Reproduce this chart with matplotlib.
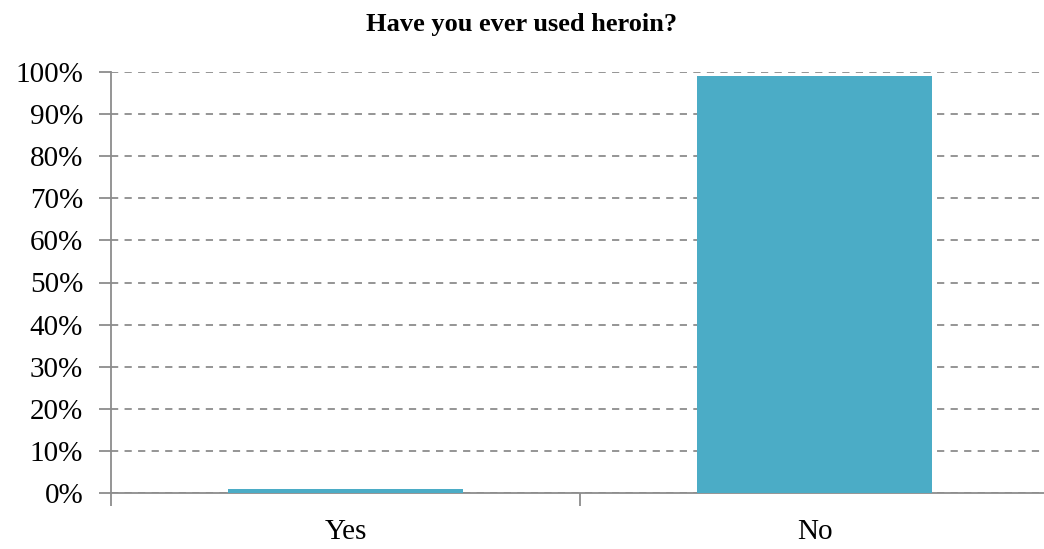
import matplotlib
matplotlib.use("Agg")
import matplotlib.pyplot as plt
from matplotlib.ticker import PercentFormatter, MultipleLocator

categories = ["Yes", "No"]
shares = [1, 99]
title = "Have you ever used heroin?"

plt.rcParams["font.family"] = ["Liberation Serif", "DejaVu Serif"]

fig = plt.figure(figsize=(10.44, 5.49), dpi=100)
W, H = 1044, 549
left, right, top, bottom = 111, 1049, 72, 493
ax = fig.add_axes([left / W, 1 - bottom / H, (right - left) / W, (bottom - top) / H])

grid_color = "#8c8c8c"
x = range(len(categories))
ax.bar(x, shares, width=0.5, color="#4bacc6", zorder=3)

ax.set_xlim(-0.5, len(categories) - 0.5)
ax.set_ylim(0, 100)
ax.yaxis.set_major_locator(MultipleLocator(10))
ax.yaxis.set_major_formatter(PercentFormatter(decimals=0))
ax.set_xticks([-0.5, 0.5, 1.5], minor=False)
ax.set_xticklabels([])
ax.set_xticks([0, 1], minor=True)
ax.set_xticklabels(categories, minor=True)
ax.tick_params(axis="x", which="minor", length=0, pad=19, labelsize=21)
ax.tick_params(axis="x", which="major", length=9, color=grid_color, width=1.3, direction="out")
ax.tick_params(axis="y", length=9, color=grid_color, width=1.3, labelsize=21, pad=11)

ax.yaxis.grid(True, linestyle=(0, (4, 3.5)), color=grid_color, linewidth=1.3, zorder=0)
for side in ("top", "right"):
    ax.spines[side].set_visible(False)
for side in ("left", "bottom"):
    ax.spines[side].set_color(grid_color)
    ax.spines[side].set_linewidth(1.3)

fig.text(0.5, 1 - 31 / H, title, ha="center", va="baseline", fontsize=19, fontweight="bold")

fig.savefig("out.png", dpi=100)
